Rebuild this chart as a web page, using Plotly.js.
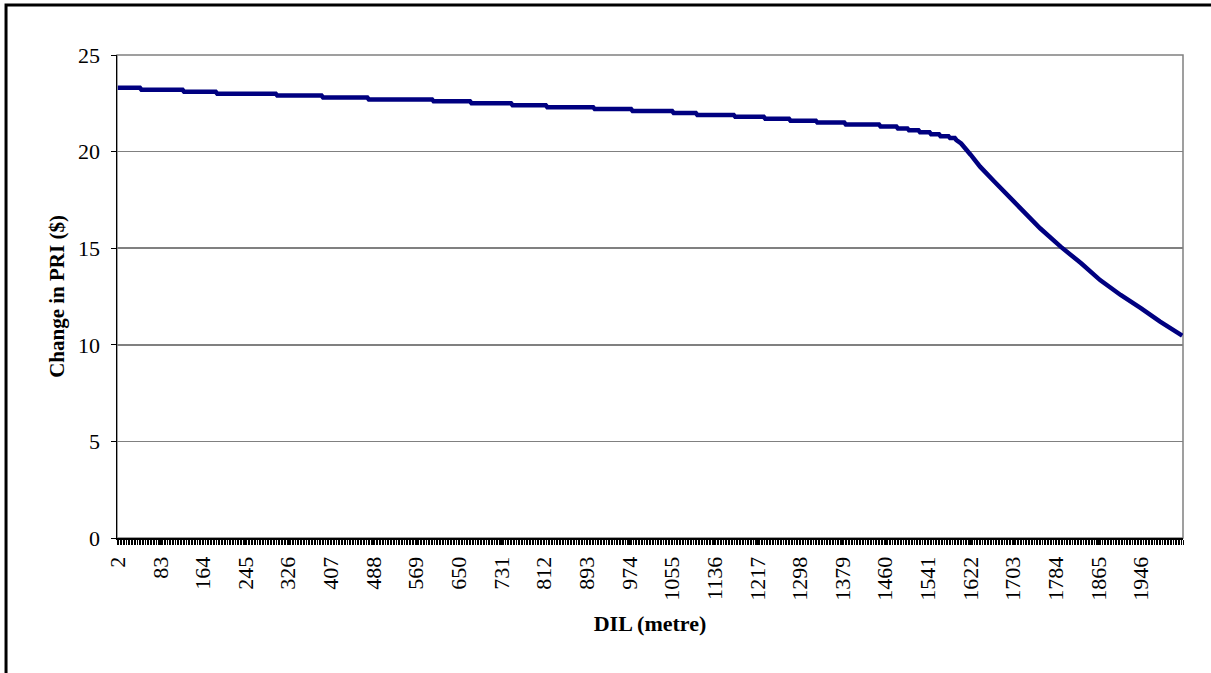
<!DOCTYPE html>
<html>
<head>
<meta charset="utf-8">
<script src="https://cdn.plot.ly/plotly-3.0.1.min.js"></script>
<style>
  html, body { margin: 0; padding: 0; background: #fff; }
  #chart { width: 1211px; height: 673px; }
</style>
</head>
<body>
<div id="chart"></div>
<script>
// Flat part: DIL where each 0.1-step level begins, and its PRI value
const stepStart = [2, 47, 128, 191, 305, 392, 479, 602, 674, 752, 818, 908, 980, 1058, 1103, 1175, 1232, 1280, 1331, 1385, 1451, 1484, 1505, 1526, 1547, 1565, 1583];
const stepValue = [23.3, 23.2, 23.1, 23.0, 22.9, 22.8, 22.7, 22.6, 22.5, 22.4, 22.3, 22.2, 22.1, 22.0, 21.9, 21.8, 21.7, 21.6, 21.5, 21.4, 21.3, 21.2, 21.1, 21.0, 20.9, 20.8, 20.7];
// Steep part after the knee
const curveDIL = [1595, 1604, 1622, 1640, 1667, 1691, 1724, 1754, 1793, 1832, 1868, 1907, 1946, 1982, 2024];
const curveValue = [20.6, 20.42, 19.84, 19.22, 18.45, 17.76, 16.89, 16.03, 15.08, 14.22, 13.35, 12.58, 11.89, 11.2, 10.47];

const xTitle = 'DIL (metre)';
const yTitle = 'Change in PRI ($)';

const xs = [], ys = [];
for (let i = 0; i < stepStart.length; i++) {
  const next = (i + 1 < stepStart.length) ? stepStart[i + 1] : curveDIL[0];
  xs.push(stepStart[i]); ys.push(stepValue[i]);
  xs.push(next - 3); ys.push(stepValue[i]);
}
for (let i = 0; i < curveDIL.length; i++) { xs.push(curveDIL[i]); ys.push(curveValue[i]); }

const serif = '"Liberation Serif", "Times New Roman", Times, serif';

const trace = {
  x: xs, y: ys, type: 'scatter', mode: 'lines',
  line: { color: '#000080', width: 4.5 },
  hoverinfo: 'x+y'
};

const layout = {
  width: 1211, height: 673,
  margin: { l: 117, r: 28, t: 55, b: 135, pad: 0 },
  paper_bgcolor: '#ffffff', plot_bgcolor: '#ffffff',
  showlegend: false,
  font: { family: serif, size: 22, color: '#000' },
  xaxis: {
    type: 'linear', range: [0.5, 2025.5],
    tickmode: 'linear', tick0: 2, dtick: 81,
    ticks: 'outside', ticklen: 5, tickcolor: '#000', tickwidth: 1,
    tickangle: -90,
    ticklabelstandoff: 3,
    tickfont: { family: serif, size: 22, color: '#000' },
    showgrid: false, zeroline: false,
    showline: true, linecolor: '#000', linewidth: 2,
    minor: { tick0: 0.5, dtick: 3, ticks: 'outside', ticklen: 5, tickcolor: '#000', tickwidth: 1, showgrid: false },
    title: { text: xTitle, font: { family: serif, size: 22, color: '#000', weight: 'bold' }, standoff: 16 },
    fixedrange: true
  },
  yaxis: {
    range: [0, 25], tickmode: 'linear', tick0: 0, dtick: 5,
    ticks: 'outside', ticklen: 5, tickcolor: '#000', tickwidth: 1,
    ticklabelstandoff: 6,
    tickfont: { family: serif, size: 22, color: '#000' },
    showgrid: true, gridcolor: '#808080', gridwidth: 1.5,
    zeroline: false,
    showline: true, linecolor: '#000', linewidth: 1.5,
    title: { text: yTitle, font: { family: serif, size: 21, color: '#000', weight: 'bold' }, standoff: 7 },
    fixedrange: true
  },
  shapes: [
    { type: 'rect', xref: 'paper', yref: 'paper', x0: 0, x1: 1, y0: 0, y1: 1,
      line: { color: '#808080', width: 1.5 }, layer: 'below' },
    { type: 'path', xref: 'paper', yref: 'paper',
      path: 'M 1.2,1.1035 L -0.1041,1.1035 L -0.1041,-0.4',
      line: { color: '#000', width: 3 }, layer: 'above' }
  ]
};

Plotly.newPlot('chart', [trace], layout, { displayModeBar: false, staticPlot: true });
</script>
</body>
</html>
